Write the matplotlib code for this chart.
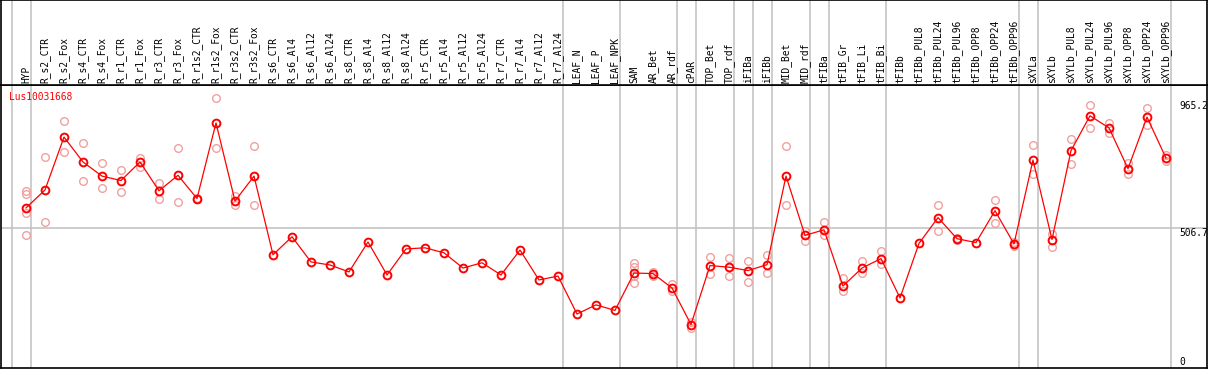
import matplotlib
matplotlib.use("Agg")
import matplotlib.pyplot as plt

# sample names along the top
samples = [
    "HYP", "R_s2_CTR", "R_s2_Fox", "R_s4_CTR", "R_s4_Fox", "R_r1_CTR", "R_r1_Fox",
    "R_r3_CTR", "R_r3_Fox", "R_r1s2_CTR", "R_r1s2_Fox", "R_r3s2_CTR", "R_r3s2_Fox",
    "R_s6_CTR", "R_s6_Al4", "R_s6_Al12", "R_s6_Al24", "R_s8_CTR", "R_s8_Al4",
    "R_s8_Al12", "R_s8_Al24", "R_r5_CTR", "R_r5_Al4", "R_r5_Al12", "R_r5_Al24",
    "R_r7_CTR", "R_r7_Al4", "R_r7_Al12", "R_r7_Al24", "LEAF_N", "LEAF_P", "LEAF_NPK",
    "SAM", "AR_Bet", "AR_rdf", "cPAR", "TOP_Bet", "TOP_rdf", "iFIBa", "iFIBb",
    "MID_Bet", "MID_rdf", "tFIBa", "tFIB_Gr", "tFIB_Li", "tFIB_Bi", "tFIBb",
    "tFIBb_PUL8", "tFIBb_PUL24", "tFIBb_PUL96", "tFIBb_OPP8", "tFIBb_OPP24",
    "tFIBb_OPP96", "sXYLa", "sXYLb", "sXYLb_PUL8", "sXYLb_PUL24", "sXYLb_PUL96",
    "sXYLb_OPP8", "sXYLb_OPP24", "sXYLb_OPP96",
]

# mean expression per sample
means = [
    578, 643, 834, 744, 693, 677, 744, 640, 696, 612, 885, 603, 693,
    409, 474, 383, 372, 347, 455, 336, 430, 434, 416, 361, 380, 336, 426, 318, 332,
    195, 228, 208, 343, 341, 289, 157, 370, 364, 352, 373, 693, 479, 499,
    296, 361, 395, 253, 450, 543, 467, 453, 568, 448, 751, 464, 785, 911, 867,
    720, 906, 758,
]

# individual replicates (empty where none are drawn)
replicates = [
    [640, 629, 560, 482], [762, 527], [892, 780], [813, 677], [740, 650],
    [715, 636], [760, 726], [668, 610], [795, 600], [615, 609], [975, 795],
    [621, 587], [803, 589],
    [], [], [], [], [], [], [], [], [], [], [], [], [], [], [], [],
    [], [], [],
    [380, 364, 331, 307], [348, 334], [304, 278], [166, 145], [402, 340],
    [397, 332], [385, 311], [407, 343], [803, 589], [496, 460], [529, 482],
    [326, 278], [387, 343], [424, 376], [], [], [589, 495], [470, 464], [],
    [608, 524], [455, 439], [805, 699], [485, 436], [827, 737], [951, 867],
    [883, 849], [740, 701], [940, 876], [768, 746],
]

# group separators come right after these columns
group_ends = [-1, 0, 28, 31, 34, 35, 37, 38, 39, 41, 42, 45, 52, 53, 60]

gene = "Lus10031668"
axis_marks = [965.2, 506.7]

W, H = 1209, 370
fig = plt.figure(figsize=(W / 100, H / 100), dpi=100)
font = dict(family="DejaVu Sans Mono", fontsize=6.9)

xmin, xmax = (1 - 26) / 19, (1207 - 26) / 19

ax = fig.add_axes([1 / W, 2 / H, 1206 / W, 283 / H])
head = fig.add_axes([1 / W, 285 / H, 1206 / W, 85 / H])

for a in (ax, head):
    a.set_xlim(xmin, xmax)
    a.set_xticks([])
    a.set_yticks([])
    for s in a.spines.values():
        s.set_color("black")
        s.set_linewidth(1.2)
    for g in group_ends:
        a.axvline(g + 0.25, color="#c0c0c0", lw=1.1, zorder=0)

ax.set_ylim(0, 1022)
ax.axhline(axis_marks[1], color="#c0c0c0", lw=1.1, zorder=0)

xs = list(range(len(samples)))
for i, reps in enumerate(replicates):
    if reps:
        ax.plot([i] * len(reps), reps, "o", ms=5.5, mfc="none", mec="#f0a0a0",
                mew=1.0, zorder=2)

ax.plot(xs, means, "-", color="red", lw=0.9, zorder=3)
ax.plot(xs, means, "o", ms=5.6, mfc="none", mec="red", mew=1.4, zorder=4)

fig.text(9 / W, 1 - 97 / H, gene, color="red", ha="left", va="center", **font)
for v in axis_marks:
    ax.text(60.7, v, f"{v}", ha="left", va="top", **font)
ax.text(60.7, 4, "0", ha="left", va="bottom", **font)

head.set_ylim(0, 85)
for i, name in enumerate(samples):
    head.text(i, 2, name, rotation=90, ha="center", va="bottom", **font)

fig.savefig("out.png", dpi=100)
